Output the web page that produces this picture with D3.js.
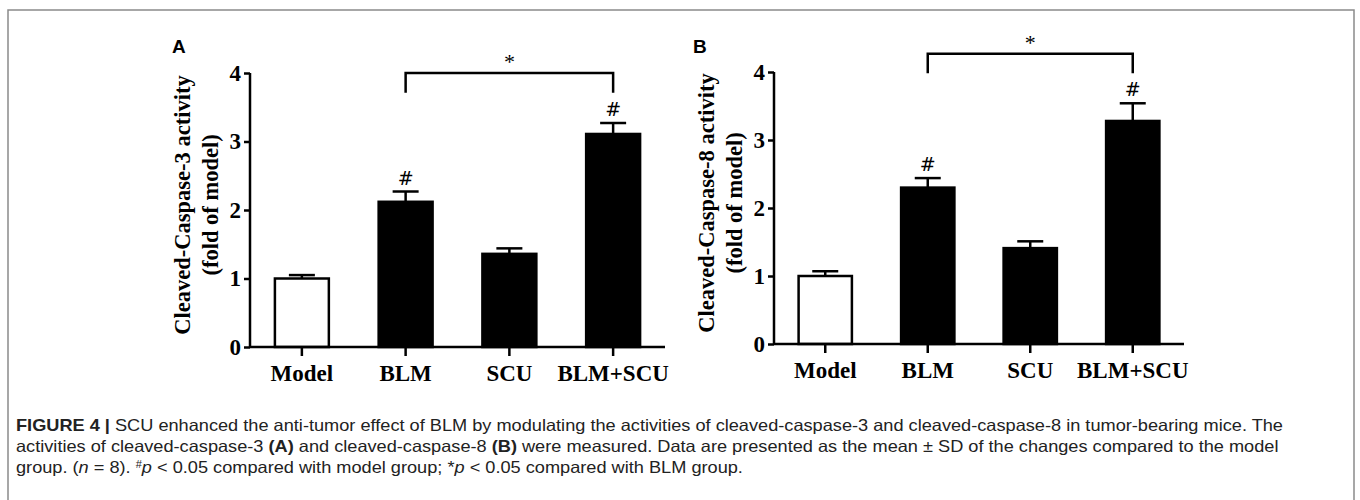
<!DOCTYPE html>
<html><head><meta charset="utf-8">
<script src="https://cdn.jsdelivr.net/npm/d3@7"></script>
<style>
html,body{margin:0;padding:0;background:#fff;}
svg{display:block;}
</style>
</head><body>
<svg id="c" width="1360" height="500"></svg>
<script>
const categories = ["Model", "BLM", "SCU", "BLM+SCU"];
const caspase3Mean = [1.00, 2.12, 1.36, 3.11];
const caspase3SD   = [0.05, 0.15, 0.08, 0.16];
const caspase8Mean = [1.00, 2.30, 1.41, 3.28];
const caspase8SD   = [0.07, 0.14, 0.10, 0.26];
const yTicks = [0, 1, 2, 3, 4];
const hashGroups = ["BLM", "BLM+SCU"];           // # p<0.05 vs model
const starPair = ["BLM", "BLM+SCU"];             // * p<0.05 vs BLM
const bracketLevel = [4.0, 4.27];                // y value of * bracket (A, B)
const panelLetters = ["A", "B"];
const yLabels = [["Cleaved-Caspase-3 activity", "(fold of model)"],
                 ["Cleaved-Caspase-8 activity", "(fold of model)"]];
const captionLines = [
  [["FIGURE 4 | ", true], ["SCU enhanced the anti-tumor effect of BLM by modulating the activities of cleaved-caspase-3 and cleaved-caspase-8 in tumor-bearing mice. The", false]],
  [["activities of cleaved-caspase-3 ", false], ["(A)", true], [" and cleaved-caspase-8 ", false], ["(B)", true], [" were measured. Data are presented as the mean \u00B1 SD of the changes compared to the model", false]],
  [["group. (", false], ["n", false, true], [" = 8). ", false], ["#", false, false, true], ["p", false, true], [" < 0.05 compared with model group; *", false], ["p", false, true], [" < 0.05 compared with BLM group.", false]]
];

const svg = d3.select("#c");
const serif = "'Liberation Serif','Times New Roman',serif";

// frame
svg.append("rect").attr("x", 8).attr("y", 10).attr("width", 1346).attr("height", 520)
  .attr("fill", "none").attr("stroke", "#8a8a8a").attr("stroke-width", 1.5);

const panels = [
  {means: caspase3Mean, sd: caspase3SD, x0: 250, x1: 665, y0: 347, y1: 73, letterX: 172},
  {means: caspase8Mean, sd: caspase8SD, x0: 774, x1: 1184, y0: 344, y1: 72, letterX: 693}
];

panels.forEach((p, pi) => {
  const g = svg.append("g");
  const x = d3.scaleBand().domain(categories).range([p.x0, p.x1]).paddingInner(0.48).paddingOuter(0.24);
  const y = d3.scaleLinear().domain([0, 4]).range([p.y0, p.y1]);
  const data = categories.map((c, i) => ({c, m: p.means[i], s: p.sd[i], i}));

  // error bars (upper only)
  const capW = 26;
  data.forEach(d => {
    const cx = x(d.c) + x.bandwidth() / 2;
    g.append("line").attr("x1", cx).attr("x2", cx).attr("y1", y(d.m)).attr("y2", y(d.m + d.s))
      .attr("stroke", "#000").attr("stroke-width", 2.5);
    g.append("line").attr("x1", cx - capW / 2).attr("x2", cx + capW / 2).attr("y1", y(d.m + d.s)).attr("y2", y(d.m + d.s))
      .attr("stroke", "#000").attr("stroke-width", 2.5);
  });

  // bars
  g.selectAll("rect.bar").data(data).join("rect").attr("class", "bar")
    .attr("x", d => x(d.c)).attr("width", x.bandwidth())
    .attr("y", d => y(d.m)).attr("height", d => y(0) - y(d.m))
    .attr("fill", d => d.i === 0 ? "#fff" : "#000")
    .attr("stroke", "#000").attr("stroke-width", 2.5);

  // y axis
  const ya = g.append("g").attr("transform", `translate(${p.x0},0)`)
    .call(d3.axisLeft(y).tickValues(yTicks).tickFormat(d3.format("d")).tickSize(6).tickPadding(3));
  ya.select(".domain").attr("stroke-width", 2.5).attr("d", `M0,${y(4)}V${y(0)}`);
  ya.selectAll(".tick line").attr("stroke-width", 2.5);
  ya.selectAll(".tick text").attr("font-family", serif).attr("font-weight", "bold").attr("font-size", 23).attr("fill", "#000");

  // x axis
  const xa = g.append("g").attr("transform", `translate(0,${p.y0})`)
    .call(d3.axisBottom(x).tickSize(9).tickPadding(9));
  xa.select(".domain").attr("stroke-width", 2.5).attr("d", `M${p.x0},0H${p.x1}`);
  xa.selectAll(".tick line").attr("stroke-width", 2.5);
  xa.selectAll(".tick text").attr("font-family", serif).attr("font-weight", "bold").attr("font-size", 23).attr("fill", "#000");

  // y label
  const yl = yLabels[pi];
  const midY = (p.y0 + p.y1) / 2 - 5;
  [[yl[0], p.x0 - 68], [yl[1], p.x0 - 40]].forEach(([t, lx]) => {
    g.append("text").attr("transform", `translate(${lx},${midY}) rotate(-90)`)
      .attr("text-anchor", "middle").attr("dominant-baseline", "central")
      .attr("font-family", serif).attr("font-weight", "bold").attr("font-size", 22.5)
      .text(t);
  });

  // # marks
  data.filter(d => hashGroups.includes(d.c)).forEach(d => {
    g.append("text").attr("x", x(d.c) + x.bandwidth() / 2).attr("y", y(d.m + d.s) - 7)
      .attr("text-anchor", "middle").attr("font-family", "'DejaVu Sans',sans-serif").attr("font-size", 19)
      .text("#");
  });

  // * bracket
  const bx1 = x(starPair[0]) + x.bandwidth() / 2, bx2 = x(starPair[1]) + x.bandwidth() / 2;
  const by = y(bracketLevel[pi]), bdrop = y(bracketLevel[pi] - 0.29);
  g.append("path").attr("d", `M${bx1},${bdrop}V${by}H${bx2}V${bdrop}`)
    .attr("fill", "none").attr("stroke", "#000").attr("stroke-width", 2.5);
  g.append("text").attr("x", (bx1 + bx2) / 2).attr("y", by - 4)
    .attr("text-anchor", "middle").attr("font-family", serif).attr("font-size", 22)
    .text("*");

  // panel letter
  svg.append("text").attr("x", p.letterX).attr("y", 53)
    .attr("font-family", "'Liberation Sans',Arial,sans-serif").attr("font-weight", "bold").attr("font-size", 19)
    .text(panelLetters[pi]);
});

// caption
const capFont = "'Liberation Sans',Arial,sans-serif";
const capNodes = captionLines.map((line, li) => {
  const t = svg.append("text").attr("x", 16).attr("y", 431 + li * 21)
    .attr("font-family", capFont).attr("font-size", 16.5).attr("fill", "#222");
  line.forEach(([s, bold, ital, sup]) => {
    const ts = t.append("tspan").text(s);
    if (bold) ts.attr("font-weight", "bold");
    if (ital) ts.attr("font-style", "italic");
    if (sup) ts.attr("font-size", 10).attr("baseline-shift", "super");
  });
  return t;
});
// stretch caption so first line spans the reference width
const w0 = capNodes[0].node().getComputedTextLength();
const k = 1267 / w0;
capNodes.forEach(t => {
  const w = t.node().getComputedTextLength();
  t.attr("textLength", w * k).attr("lengthAdjust", "spacingAndGlyphs");
});
</script>
</body></html>
